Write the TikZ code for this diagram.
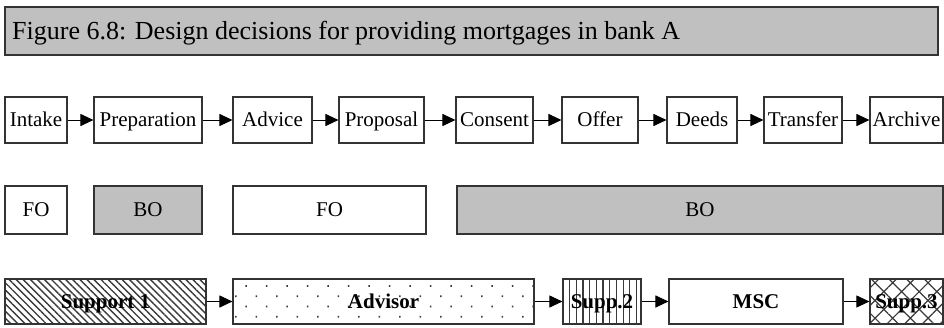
\documentclass[tikz,border=0pt]{standalone}
\usepackage{fontspec}
\setmainfont{Liberation Serif}
\usetikzlibrary{arrows.meta,patterns.meta}
\definecolor{panelgray}{HTML}{C0C0C0}
\definecolor{edge}{HTML}{333333}
\definecolor{ink}{HTML}{3A3A3A}
\tikzset{
  box/.style={draw=edge, line width=1.1pt, rectangle, inner sep=0pt,
    font=\fontsize{21}{24}\selectfont, text height=13.9pt, text depth=0pt},
  bold/.style={box, font=\fontsize{21}{24}\selectfont\bfseries},
  arr/.style={line width=1pt, -{Triangle[length=13pt,width=12pt]}},
}
% place a box by its left/right x and top/bottom y (y grows downwards)
\newcommand{\boxat}[7]{%
  \node[#1, minimum width={(#4)-(#3)}, minimum height={(#6)-(#5)}]
    (#2) at ({((#3)+(#4))/2},{((#5)+(#6))/2}) {#7};}
\begin{document}
\begin{tikzpicture}[x=1pt, y=-1pt]
  \useasboundingbox (0,0) rectangle (944,327);

  % caption bar
  \node[draw=edge, line width=1.1pt, fill=panelgray, inner sep=0pt,
        minimum width=933pt, minimum height=48pt] (title) at (471.5,31) {};
  \node[anchor=west, font=\fontsize{26}{29}\selectfont, inner sep=0pt,
        text height=17.2pt, text depth=0pt]
        (titletext) at (12,31) {Figure 6.8: Design decisions for providing mortgages in bank A};

  % process steps
  \boxat{box}{intake}{5}{67}{97}{143}{Intake}
  \boxat{box}{prep}{94}{202}{97}{143}{Preparation}
  \boxat{box}{advice}{233}{312}{97}{143}{Advice}
  \boxat{box}{proposal}{339}{424}{97}{143}{Proposal}
  \boxat{box}{consent}{456}{533}{97}{143}{Consent}
  \boxat{box}{offer}{562}{638}{97}{143}{Offer}
  \boxat{box}{deeds}{667}{737}{97}{143}{Deeds}
  \boxat{box}{transfer}{764}{842}{97}{143}{Transfer}
  \boxat{box}{archive}{870}{943}{97}{143}{Archive}
  \foreach \a/\b in {intake/prep, prep/advice, advice/proposal, proposal/consent,
                     consent/offer, offer/deeds, deeds/transfer, transfer/archive}
    \draw[arr] (\a.east) -- (\b.west);

  % front office / back office
  \boxat{box}{fo1}{5}{67}{186}{234}{FO}
  \boxat{box, fill=panelgray}{bo1}{94}{202}{186}{234}{BO}
  \boxat{box}{fo2}{233}{426}{186}{234}{FO}
  \boxat{box, fill=panelgray}{bo2}{457}{943}{186}{234}{BO}

  % roles
  \boxat{bold, pattern={Lines[angle=-45,distance=5pt,line width=1.4pt]}, pattern color=ink}{sup1}{5}{206}{279}{324}{Support 1}
  \boxat{bold, pattern={Dots[angle=45,distance=14.5pt,radius=1.1pt]}, pattern color=ink}{advisor}{233}{534}{279}{324}{Advisor}
  \boxat{bold, pattern={Lines[angle=90,distance=6.7pt,line width=1.2pt]}, pattern color=ink}{sup2}{563}{641}{279}{324}{Supp.2}
  \boxat{bold}{msc}{669}{843}{279}{324}{MSC}
  \boxat{bold, pattern={Hatch[angle=45,distance=12.5pt,line width=1.2pt]}, pattern color=ink}{sup3}{870}{943}{279}{324}{Supp.3}
  \foreach \a/\b in {sup1/advisor, advisor/sup2, sup2/msc, msc/sup3}
    \draw[arr] (\a.east) -- (\b.west);
\end{tikzpicture}
\end{document}
